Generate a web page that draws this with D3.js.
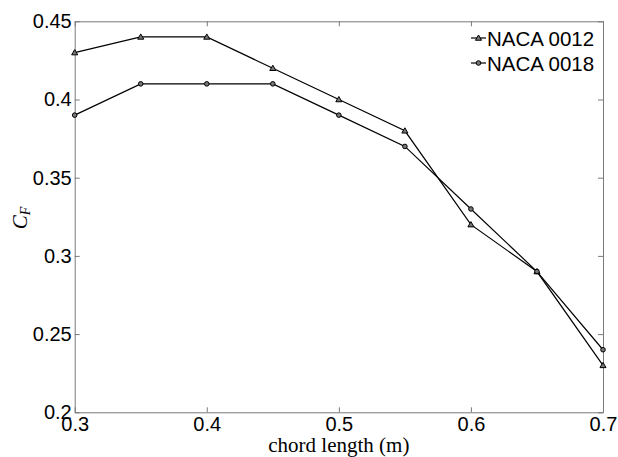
<!DOCTYPE html>
<html>
<head>
<meta charset="utf-8">
<script src="https://cdn.jsdelivr.net/npm/d3@7"></script>
<style>
  body { margin: 0; background: #fff; }
  svg { display: block; }
</style>
</head>
<body>
<div id="chart"></div>
<script>
// chord lengths and friction coefficients
const chord = [0.3, 0.35, 0.4, 0.45, 0.5, 0.55, 0.6, 0.65, 0.7];
const naca0012 = [0.43, 0.44, 0.44, 0.42, 0.40, 0.38, 0.32, 0.29, 0.23];
const naca0018 = [0.39, 0.41, 0.41, 0.41, 0.39, 0.37, 0.33, 0.29, 0.24];
const xTicks = [0.3, 0.4, 0.5, 0.6, 0.7];
const yTicks = [0.2, 0.25, 0.3, 0.35, 0.4, 0.45];
const seriesNames = ["NACA 0012", "NACA 0018"];

const width = 618, height = 457;
const plotL = 74.7, plotR = 603, plotT = 21.3, plotB = 412.3;
const axisColor = "#7a7a7a";

const svg = d3.select("#chart").append("svg")
    .attr("width", width)
    .attr("height", height);

const x = d3.scaleLinear().domain([0.3, 0.7]).range([plotL, plotR]);
const y = d3.scaleLinear().domain([0.2, 0.45]).range([plotB, plotT]);

// axes: bottom/left carry labels, top/right only mirrored ticks
const tickLen = 5;
function styleAxis(g) {
    g.select(".domain").attr("stroke", axisColor);
    g.selectAll(".tick line").attr("stroke", axisColor);
    g.selectAll(".tick text")
        .style("font-family", "Arial, 'Liberation Sans', sans-serif")
        .style("font-size", "20px")
        .attr("fill", "#000");
}

svg.append("g")
    .attr("transform", `translate(0,${plotB})`)
    .call(d3.axisBottom(x).tickValues(xTicks).tickFormat(d3.format("")).tickSizeInner(-tickLen).tickSizeOuter(0).tickPadding(5))
    .call(styleAxis);

svg.append("g")
    .attr("transform", `translate(0,${plotT})`)
    .call(d3.axisTop(x).tickValues(xTicks).tickFormat("").tickSizeInner(-tickLen).tickSizeOuter(0))
    .call(styleAxis);

svg.append("g")
    .attr("transform", `translate(${plotL},0)`)
    .call(d3.axisLeft(y).tickValues(yTicks).tickFormat(d3.format("")).tickSizeInner(-tickLen).tickSizeOuter(0).tickPadding(3))
    .call(styleAxis);

svg.append("g")
    .attr("transform", `translate(${plotR},0)`)
    .call(d3.axisRight(y).tickValues(yTicks).tickFormat("").tickSizeInner(-tickLen).tickSizeOuter(0))
    .call(styleAxis);

// axis labels
svg.append("text")
    .attr("x", (plotL + plotR) / 2)
    .attr("y", 452)
    .attr("text-anchor", "middle")
    .style("font-family", "'Liberation Serif', serif")
    .style("font-size", "21px")
    .text("chord length (m)");

const yl = svg.append("text")
    .attr("transform", `translate(27,218) rotate(-90)`)
    .attr("text-anchor", "middle")
    .style("font-family", "'Liberation Serif', serif")
    .style("font-style", "italic")
    .style("font-size", "21px");
yl.append("tspan").text("C");
yl.append("tspan").attr("dy", 3).style("font-size", "14px").text("F");

// series
const line = d3.line().x((d, i) => x(chord[i])).y(d => y(d));
const tri = d3.symbol().type(d3.symbolTriangle).size(16);

svg.append("path")
    .datum(naca0012)
    .attr("d", line)
    .attr("fill", "none")
    .attr("stroke", "#000")
    .attr("stroke-width", 1.2);

svg.append("path")
    .datum(naca0018)
    .attr("d", line)
    .attr("fill", "none")
    .attr("stroke", "#000")
    .attr("stroke-width", 1.2);

svg.selectAll(".m12")
    .data(naca0012)
    .enter().append("path")
    .attr("class", "m12")
    .attr("d", tri)
    .attr("transform", (d, i) => `translate(${x(chord[i])},${y(d) + 0.5})`)
    .attr("fill", "#777")
    .attr("stroke", "#000")
    .attr("stroke-width", 1);

svg.selectAll(".m18")
    .data(naca0018)
    .enter().append("circle")
    .attr("class", "m18")
    .attr("cx", (d, i) => x(chord[i]))
    .attr("cy", d => y(d))
    .attr("r", 2.3)
    .attr("fill", "#777")
    .attr("stroke", "#000")
    .attr("stroke-width", 1);

// legend
const legendY = [38, 63];
const leg = svg.append("g");
seriesNames.forEach((name, i) => {
    leg.append("line")
        .attr("x1", 471).attr("x2", 486)
        .attr("y1", legendY[i]).attr("y2", legendY[i])
        .attr("stroke", "#000").attr("stroke-width", 1.2);
    if (i === 0) {
        leg.append("path").attr("d", tri)
            .attr("transform", `translate(478.5,${legendY[i] + 0.5})`)
            .attr("fill", "#777").attr("stroke", "#000");
    } else {
        leg.append("circle").attr("cx", 478.5).attr("cy", legendY[i]).attr("r", 2.3)
            .attr("fill", "#777").attr("stroke", "#000");
    }
    leg.append("text")
        .attr("x", 487)
        .attr("y", legendY[i] + 7.5)
        .style("font-family", "Arial, 'Liberation Sans', sans-serif")
        .style("font-size", "20.5px")
        .text(name);
});
</script>
</body>
</html>
